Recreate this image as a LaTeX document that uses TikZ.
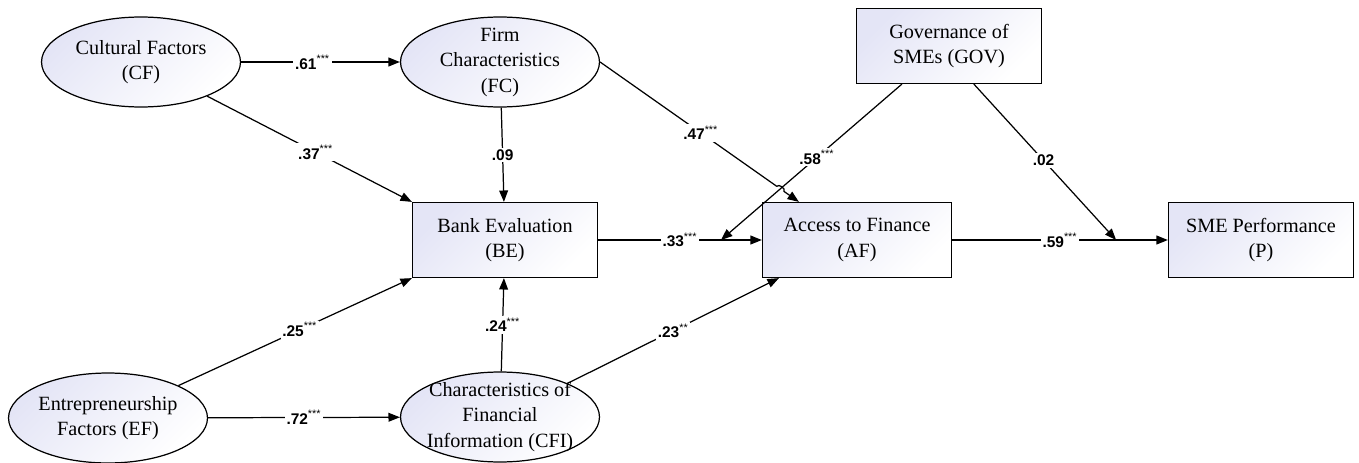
\documentclass[tikz,border=0pt]{standalone}
\usepackage{fontspec}
\setmainfont{Liberation Serif}
\newfontfamily\serifnode{Liberation Serif}
\newfontfamily\coeffont{Liberation Sans}
\usetikzlibrary{positioning,shapes,arrows.meta,calc,intersections}
\definecolor{shadeblue}{RGB}{228,229,246}
\newcommand{\sgn}[1]{\textsuperscript{\mdseries #1}}
\newcommand{\nodefont}{\serifnode\fontsize{11.5}{14.5}\selectfont}

\tikzset{
  latent/.style={ellipse, draw, minimum width=3.98cm, minimum height=1.8cm, inner sep=0pt,
    top color=shadeblue, bottom color=white, shading angle=45},
  inside/.style={align=center, font=\nodefont},
  observed/.style={rectangle, draw, minimum width=3.7cm, minimum height=1.5cm, align=center,
    font=\nodefont, top color=shadeblue, bottom color=white, shading angle=45},
  coef/.style={fill=white, inner sep=1pt, font=\coeffont\bfseries\fontsize{8.8}{10}\selectfont}
}

\begin{document}
\begin{tikzpicture}[x=0.02cm, y=-0.02cm, line width=0.7pt, >={Triangle[length=6.5pt,width=5pt]}]
  \useasboundingbox (0,0) rectangle (1359,463);
  % latent constructs
  \node[latent, label={[inside]center:Cultural Factors\\(CF)}] (CF) at (141,62) {};
  \node[latent, label={[inside]center:Firm\\Characteristics\\(FC)}] (FC) at (500,62) {};
  \node[latent, label={[inside]center:Entrepreneurship\\Factors (EF)}] (EF) at (108,418) {};
  \node[latent, label={[inside]center:Characteristics of\\Financial\\Information (CFI)}] (CFI) at (500,417) {};
  % observed constructs
  \node[observed] (GOV) at (949,46) {Governance of\\SMEs (GOV)};
  \node[observed] (BE) at (505,240) {Bank Evaluation\\(BE)};
  \node[observed, minimum width=3.78cm] (AF) at (857,240) {Access to Finance\\(AF)};
  \node[observed] (P) at (1261,240) {SME Performance\\(P)};
  % moderation points
  \coordinate (m1) at ($(BE.east)!0.75!(AF.west)$);
  \coordinate (m2) at ($(AF.east)!0.76!(P.west)$);
  \coordinate (t47) at ([xshift=0.74cm]AF.north west);
  \coordinate (g58) at ([xshift=0.92cm]GOV.south west);
  % hop where .47 crosses .58
  \path[name path=p47] (FC.east) -- (t47);
  \path[name path=p58] (g58) -- (m1);
  \path[name intersections={of=p47 and p58, by=x47}];
  \coordinate (h1) at ($(x47)!2.5pt!(FC.east)$);
  \coordinate (h2) at ($(x47)!2.5pt!(t47)$);
  % paths
  \draw[->] (CF) -- node[coef, pos=0.45] (c61) {.61\sgn{***}} (FC);
  \draw[->] (CF) -- node[coef, pos=0.53] (c37) {.37\sgn{***}} (BE.north west);
  \draw[->] (FC) -- node[coef] (c09) {.09} (BE);
  \draw[->] (FC.east) -- node[coef, pos=0.57] (c47) {.47\sgn{***}} (h1) to[bend left=90] (h2) -- (t47);
  \draw[->] (g58) -- node[coef, pos=0.47] (c58) {.58\sgn{***}} (m1);
  \draw[->] ([xshift=2.36cm]GOV.south west) -- node[coef, pos=0.49] (c02) {.02} (m2);
  \draw[->] (BE) -- node[coef] (c33) {.33\sgn{***}} (AF);
  \draw[->] (AF) -- node[coef] (c59) {.59\sgn{***}} (P);
  \draw[->] (EF) -- node[coef, pos=0.52] (c25) {.25\sgn{***}} (BE.south west);
  \draw[->] (EF) -- node[coef] (c72) {.72\sgn{***}} (CFI);
  \draw[->] (CFI) -- node[coef] (c24) {.24\sgn{***}} (BE);
  \draw[->] (CFI) -- node[coef] (c23) {.23\sgn{**}} ([xshift=0.34cm]AF.south west);
\end{tikzpicture}
\end{document}
